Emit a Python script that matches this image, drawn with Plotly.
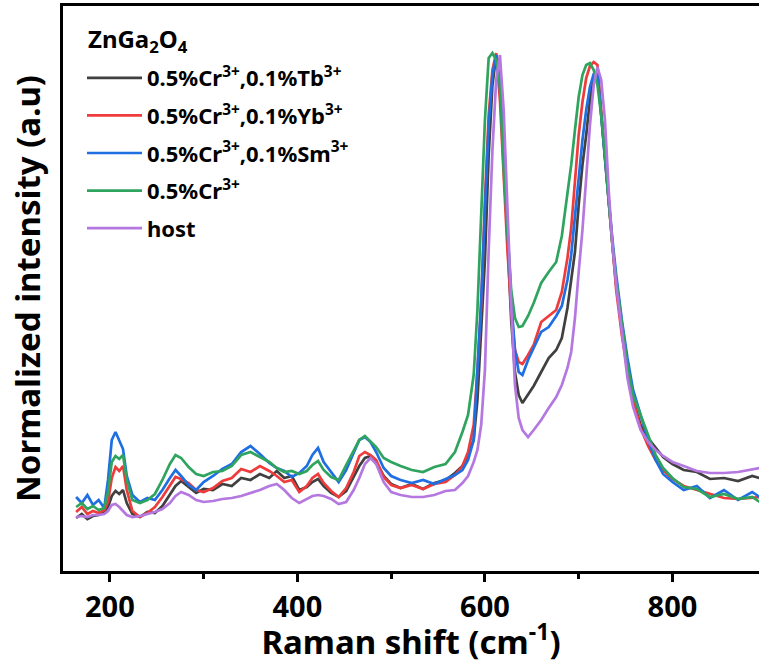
import plotly.graph_objects as go

raman_shift = [164, 170, 176, 182, 188, 194, 198, 202, 206, 210, 214, 218, 224, 232, 240, 248, 256, 264, 270, 276,
               284, 292, 300, 310, 320, 330, 340, 350, 360, 370, 378, 386, 394, 402, 410, 416, 422, 428, 436, 444,
               452, 460, 466, 472, 478, 484, 492, 500, 510, 522, 534, 546, 558, 568, 576, 582, 588, 592, 596, 600,
               604, 608, 612, 616, 620, 624, 628, 632, 636, 640, 646, 652, 660, 668, 676, 682, 688, 692, 696, 700,
               704, 708, 712, 716, 720, 724, 728, 732, 736, 740, 746, 752, 758, 766, 774, 782, 790, 800, 812, 826,
               840, 855, 870, 885, 893]

tb_sample = [53, 57, 52, 55, 56, 59, 64, 75, 80, 77, 81, 68, 57, 54, 59, 58, 65, 76, 85, 90,
             84, 78, 82, 81, 87, 85, 93, 91, 97, 93, 100, 93, 95, 81, 84, 89, 92, 85, 78, 74,
             80, 94, 105, 113, 115, 109, 95, 87, 83, 87, 82, 88, 91, 98, 105, 116, 131, 171, 236, 311,
             416, 486, 516, 486, 416, 326, 251, 199, 176, 168, 176, 185, 199, 213, 221, 233, 263, 289, 319, 366,
             406, 436, 471, 494, 499, 456, 411, 366, 326, 286, 241, 199, 171, 146, 133, 124, 114, 107, 101, 99,
             92, 93, 90, 95, 93]

yb_sample = [59, 64, 57, 60, 58, 61, 69, 93, 104, 100, 105, 81, 60, 54, 58, 64, 74, 86, 94, 92,
             88, 81, 79, 83, 90, 93, 102, 99, 105, 100, 95, 89, 91, 79, 85, 93, 97, 88, 80, 74,
             83, 99, 115, 119, 116, 111, 94, 86, 83, 86, 82, 87, 89, 96, 105, 119, 146, 201, 266, 371,
             456, 501, 518, 471, 391, 321, 261, 221, 209, 207, 216, 226, 249, 255, 261, 279, 313, 343, 386, 436,
             469, 493, 505, 509, 506, 461, 416, 366, 321, 281, 236, 201, 171, 143, 125, 111, 101, 92, 85, 81,
             77, 73, 72, 73, 74]

sm_sample = [74, 68, 76, 66, 71, 63, 91, 131, 139, 130, 122, 95, 76, 69, 73, 71, 81, 93, 101, 95,
             86, 81, 89, 95, 102, 107, 119, 125, 117, 108, 103, 100, 94, 98, 105, 116, 123, 109, 99, 89,
             101, 119, 131, 134, 129, 119, 103, 95, 91, 88, 91, 87, 92, 96, 101, 111, 131, 196, 271, 361,
             446, 496, 516, 486, 411, 341, 271, 221, 199, 196, 211, 223, 239, 244, 255, 265, 291, 316, 356, 396,
             431, 461, 484, 497, 499, 456, 411, 371, 331, 296, 251, 213, 181, 156, 131, 111, 97, 89, 81, 85,
             73, 81, 71, 79, 74]

cr_sample = [64, 68, 62, 65, 61, 63, 79, 109, 115, 112, 116, 91, 71, 68, 71, 77, 91, 107, 116, 113,
             104, 97, 95, 99, 100, 105, 116, 119, 114, 109, 103, 99, 100, 97, 100, 106, 110, 101, 94, 91,
             106, 121, 131, 135, 130, 124, 113, 109, 105, 101, 99, 104, 107, 119, 139, 156, 196, 261, 356, 451,
             513, 518, 511, 486, 401, 336, 281, 253, 244, 245, 255, 268, 288, 299, 309, 335, 378, 406, 441, 474,
             496, 506, 508, 501, 486, 456, 416, 371, 326, 291, 246, 206, 176, 156, 134, 116, 103, 93, 84, 82,
             74, 77, 72, 74, 69]

host = [54, 55, 54, 56, 56, 57, 60, 66, 67, 64, 60, 56, 54, 55, 57, 59, 62, 68, 75, 79,
        76, 71, 69, 70, 72, 73, 75, 78, 81, 85, 87, 81, 73, 68, 72, 75, 76, 75, 72, 67,
        69, 81, 93, 107, 113, 107, 89, 79, 76, 74, 74, 76, 80, 81, 88, 95, 109, 121, 146, 201,
        321, 421, 491, 516, 461, 356, 266, 186, 153, 141, 134, 141, 151, 163, 174, 186, 203, 219, 253, 299,
        341, 393, 446, 486, 504, 491, 451, 381, 326, 286, 241, 193, 164, 141, 129, 121, 115, 109, 105, 100,
        98, 98, 99, 102, 103]

series_names = ["0.5%Cr<sup>3+</sup>,0.1%Tb<sup>3+</sup>",
                "0.5%Cr<sup>3+</sup>,0.1%Yb<sup>3+</sup>",
                "0.5%Cr<sup>3+</sup>,0.1%Sm<sup>3+</sup>",
                "0.5%Cr<sup>3+</sup>",
                "host"]
series_values = [tb_sample, yb_sample, sm_sample, cr_sample, host]
series_colors = ["#404040", "#ee3b3b", "#1f6fe3", "#2fa45e", "#b478e0"]
legend_title = "ZnGa<sub>2</sub>O<sub>4</sub>"

x_ticks = [200, 400, 600, 800]
x_minor_ticks = [300, 500, 700]

FONT = "Noto Sans"

fig = go.Figure()
for i, (name, vals, col) in enumerate(zip(series_names, series_values, series_colors)):
    fig.add_trace(go.Scatter(x=raman_shift, y=vals, mode="lines", name="<b>" + name + "</b>",
                             legendgroup="g%d" % i,
                             line=dict(color=col, width=2.7)))

fig.add_annotation(
    text="<b>" + legend_title + "</b>", xref="paper", yref="paper",
    x=(86 - 63) / 696, y=1 - (40 - 6) / 565, xanchor="left", yanchor="middle",
    showarrow=False, font=dict(family=FONT, size=24, color="black"),
)

fig.update_layout(
    width=759, height=664,
    margin=dict(l=63, r=0, t=6, b=93, autoexpand=False),
    paper_bgcolor="white", plot_bgcolor="white",
    font=dict(family=FONT, color="black"),
    showlegend=True,
    legend=dict(
        x=19 / 696, y=1 - (57 - 6) / 565, xanchor="left", yanchor="top",
        bgcolor="rgba(0,0,0,0)", borderwidth=0,
        font=dict(family=FONT, size=22, color="black"),
        itemwidth=55, tracegroupgap=6, traceorder="grouped",
    ),
    xaxis=dict(
        range=[150, 892.3], automargin=False,
        showline=True, linecolor="black", linewidth=3, mirror=True,
        ticks="outside", ticklen=8, tickwidth=3, tickcolor="black",
        tickvals=x_ticks, ticktext=[str(v) for v in x_ticks],
        minor=dict(tickvals=x_minor_ticks, ticks="outside", ticklen=5, tickwidth=3, tickcolor="black"),
        showgrid=False, zeroline=False,
        tickfont=dict(family=FONT, size=29, color="black", weight="bold"),
        title=dict(text="<b>Raman shift (cm<sup>-1</sup>)</b>", font=dict(family=FONT, size=33, color="black"),
                   standoff=3),
    ),
    yaxis=dict(
        range=[0, 565], automargin=False,
        showline=True, linecolor="black", linewidth=3, mirror=False,
        ticks="", showticklabels=False, showgrid=False, zeroline=False,
        title=dict(text="<b>Normalized intensity (a.u)</b>", font=dict(family=FONT, size=33, color="black"),
                   standoff=10),
    ),
)

fig.write_html("out.html", config={"displayModeBar": False},
               post_script="document.body.style.margin='0px';")
